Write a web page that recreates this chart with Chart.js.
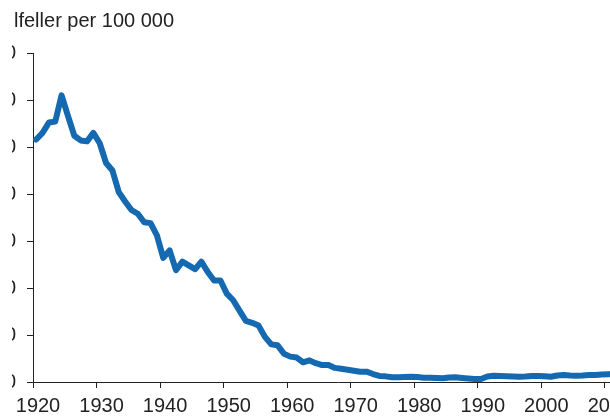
<!DOCTYPE html>
<html><head><meta charset="utf-8">
<script src="https://cdn.jsdelivr.net/npm/chart.js@4/dist/chart.umd.min.js"></script>
<style>
html,body{margin:0;padding:0;background:#fff;overflow:hidden;width:610px;height:418px;position:relative;}
#wrap{position:absolute;left:12px;top:0;width:631px;height:418px;}
#title{position:absolute;left:14px;top:10px;font-family:'Liberation Sans',Arial,sans-serif;font-size:20px;line-height:20px;color:#222;white-space:nowrap;}
</style></head><body>
<div id="wrap"><canvas id="c" width="631" height="418"></canvas></div>
<div id="title"></div>
<script>
const titleText = 'lfeller per 100 000';
const years = [1920,1921,1922,1923,1924,1925,1926,1927,1928,1929,
  1930,1931,1932,1933,1934,1935,1936,1937,1938,1939,
  1940,1941,1942,1943,1944,1945,1946,1947,1948,1949,
  1950,1951,1952,1953,1954,1955,1956,1957,1958,1959,
  1960,1961,1962,1963,1964,1965,1966,1967,1968,1969,
  1970,1971,1972,1973,1974,1975,1976,1977,1978,1979,
  1980,1981,1982,1983,1984,1985,1986,1987,1988,1989,
  1990,1991,1992,1993,1994,1995,1996,1997,1998,1999,
  2000,2001,2002,2003,2004,2005,2006,2007,2008,2009,
  2010,2011];
const cases = [258,265,276,277,305,283,262,257,256,265,
  254,233,225,202,192,183,179,170,169,156,
  132,140,119,128,124,120,128,117,108,108,
  94,87,76,65,63,60,48,40,39,30,
  27,26,21,23,20,18,18,15,14,13,
  12,11,11,8.5,6.5,6,5,5,5.3,5.6,
  5.3,4.6,4.6,4.3,3.9,4.8,5,4.3,3.7,3.2,
  3.2,5.9,6.7,6.4,6.2,5.9,5.6,5.9,6.4,6.4,
  6.1,5.6,6.9,7.4,6.9,6.7,6.9,7.4,7.4,8,
  8.2,8.5];
const xTickYears = [1920,1930,1940,1950,1960,1970,1980,1990,2000,2010];
const yTickValues = [0,50,100,150,200,250,300,350];

document.getElementById('title').textContent = titleText;
Chart.defaults.font.family = "'Liberation Sans', Arial, sans-serif";
Chart.defaults.font.size = 20;
Chart.defaults.color = '#222';

const axisColor = '#222';
new Chart(document.getElementById('c').getContext('2d'), {
  type: 'line',
  data: {
    datasets: [{
      // each yearly value is plotted at the middle of its year
      data: years.map((y, i) => ({ x: y + 0.5, y: cases[i] })),
      borderColor: '#1469b0',
      borderWidth: 6,
      pointRadius: 0,
      tension: 0,
      borderJoinStyle: 'round',
      borderCapStyle: 'round',
      fill: false
    }]
  },
  options: {
    responsive: false,
    animation: false,
    layout: { padding: { top: 53, right: 0, bottom: 0, left: 0 } },
    plugins: { legend: { display: false }, title: { display: false }, tooltip: { enabled: false } },
    scales: {
      x: {
        type: 'linear', min: 1920, max: 2016,
        afterBuildTicks: s => { s.ticks = xTickYears.map(v => ({ value: v })); },
        ticks: { autoSkip: false, maxRotation: 0, minRotation: 0, padding: 6, labelOffset: 5, color: '#222',
                 callback: v => String(v) },
        grid: { drawOnChartArea: false, drawTicks: true, tickLength: 6, color: axisColor, lineWidth: 1 },
        border: { display: true, color: axisColor, width: 1 },
        afterFit: s => { s.height = 36; s.paddingLeft = 0; s.paddingRight = 0; }
      },
      y: {
        min: 0, max: 350,
        afterBuildTicks: s => { s.ticks = yTickValues.map(v => ({ value: v })); },
        ticks: { padding: 11, color: '#222', callback: v => String(v) },
        grid: { drawOnChartArea: false, drawTicks: true, tickLength: 6, color: axisColor, lineWidth: 1 },
        border: { display: true, color: axisColor, width: 1 },
        afterFit: s => { s.width = 21; s.paddingTop = 0; s.paddingBottom = 0; }
      }
    }
  }
});
</script>
</body></html>
